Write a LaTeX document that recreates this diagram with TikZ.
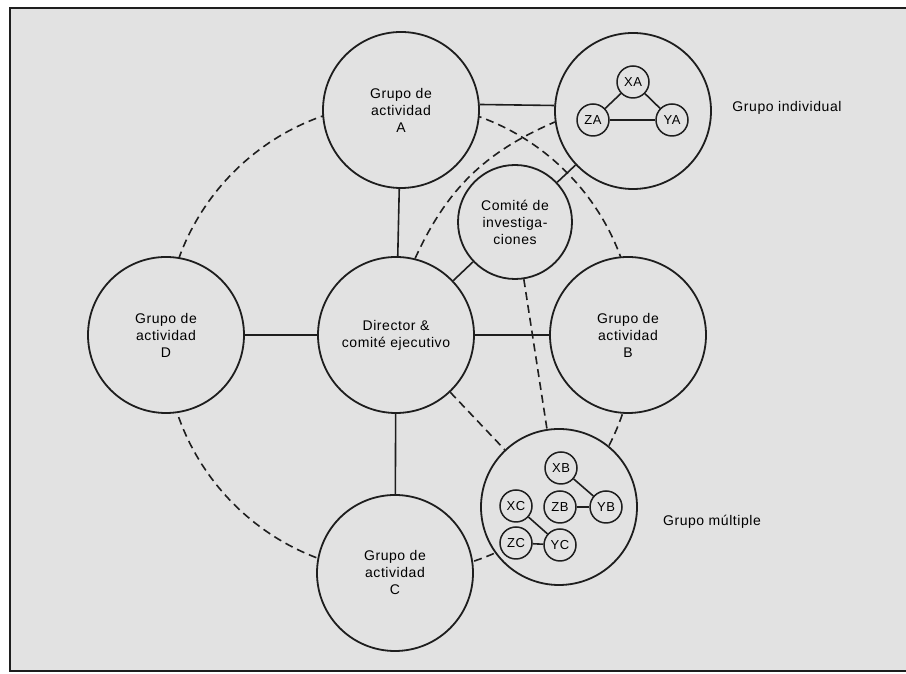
\documentclass[tikz,border=0pt]{standalone}
\usepackage{fontspec}
\setmainfont{Liberation Sans}[LetterSpace=4]
\usetikzlibrary{backgrounds}
\definecolor{paper}{RGB}{226,226,226}
\definecolor{ink}{RGB}{30,30,30}
\tikzset{
  grp/.style={circle, draw=ink, line width=1.8pt, fill=paper, minimum size=156pt,
              inner sep=0pt, align=center, font=\fontsize{14}{17}\selectfont},
  comite/.style={grp, minimum size=114pt},
  sub/.style={circle, draw=ink, line width=1.5pt, fill=paper, minimum size=32pt,
              inner sep=0pt, font=\fontsize{13}{13}\selectfont},
  caption/.style={font=\fontsize{14}{17}\selectfont},
  link/.style={draw=ink, line width=1.6pt},
  dlink/.style={link, dash pattern=on 8pt off 5pt},
}
\begin{document}
\begin{tikzpicture}[x=1pt,y=1pt]
\useasboundingbox (0,0) rectangle (906,674);
\clip (0,0) rectangle (906,674);

% main groups
\node[grp] (A)   at (401,564) {Grupo de\\actividad\\A};
\node[grp] (ind) at (633,563) {};
\node[grp] (dir) at (396,339) {Director \&\\comité ejecutivo};
\node[grp] (D)   at (166,339) {Grupo de\\actividad\\D};
\node[grp] (B)   at (628,339) {Grupo de\\actividad\\B};
\node[grp] (C)   at (395,101) {Grupo de\\actividad\\C};
\node[grp] (mul) at (559,167) {};
\node[comite] (com) at (515,452) {Comité de\\investiga-\\ciones};

% members of the individual group
\node[sub] (XA) at (633,592) {XA};
\node[sub] (ZA) at (593,554) {ZA};
\node[sub] (YA) at (672,554) {YA};

% members of the multiple group
\node[sub] (XB) at (561,206) {XB};
\node[sub] (ZB) at (560,167) {ZB};
\node[sub] (YB) at (606,167) {YB};
\node[sub] (XC) at (516,168) {XC};
\node[sub] (ZC) at (516,131) {ZC};
\node[sub] (YC) at (560,129) {YC};

% captions
\node[caption] (lind) at (787,566) {Grupo individual};
\node[caption] (lmul) at (712,152) {Grupo múltiple};

% solid links
\draw[link] (A.4) -- (ind.176);
\draw[link] (A) -- (dir);
\draw[link] (D) -- (dir);
\draw[link] (dir) -- (B);
\draw[link] (dir) -- (C);
\draw[link] (dir) -- (com);
\draw[link] (com) -- (ind);

\draw[link] (XA) -- (ZA);
\draw[link] (XA) -- (YA);
\draw[link] (ZA) -- (YA);
\draw[link] (XB) -- (YB);
\draw[link] (ZB) -- (YB);
\draw[link] (XC) -- (YC);
\draw[link] (ZC) -- (YC);

% dashed links
\draw[dlink] (com) -- (mul);
\draw[dlink] (dir) -- (mul);
\draw[dlink] (dir.76) to[bend left=21] (ind.188);

\begin{pgfonlayer}{background}
  \fill[paper] (10,3) rectangle (906,666);
  \draw[ink, line width=1.5pt] (915,666) -- (10,666) -- (10,3) -- (915,3);
  \coordinate (hub) at (400,336);
  \draw[dlink] (hub) circle[radius=235];
\end{pgfonlayer}
\end{tikzpicture}
\end{document}
